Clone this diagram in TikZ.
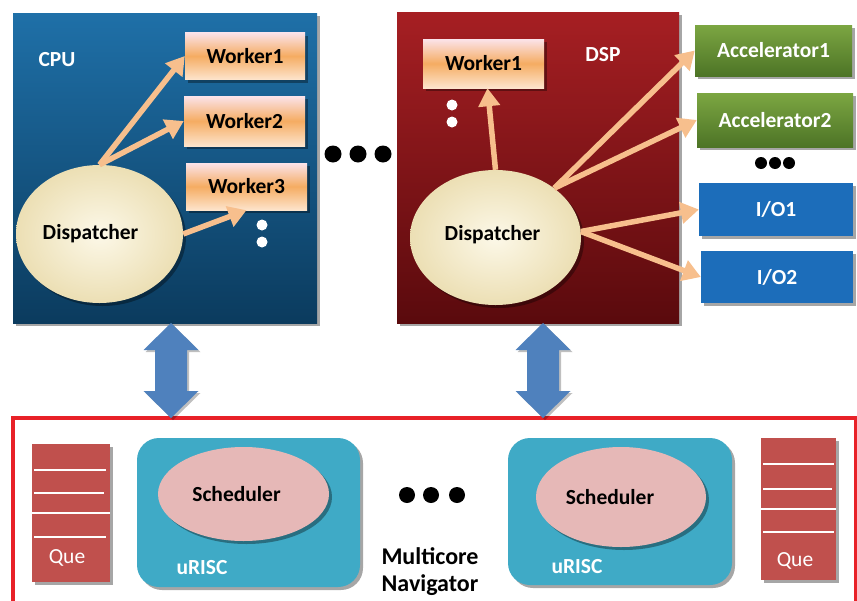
\documentclass[tikz,border=0pt]{standalone}
\usepackage{fontspec}
\setmainfont{Carlito}
\usetikzlibrary{shapes.geometric,arrows.meta,shadows}
\definecolor{cpuT}{HTML}{1F70A8}
\definecolor{cpuB}{HTML}{0B3B5E}
\definecolor{dspT}{HTML}{A61F23}
\definecolor{dspB}{HTML}{5A0A0D}
\definecolor{wkT}{HTML}{FBE3EA}
\definecolor{wkM}{HTML}{F5AC62}
\definecolor{wkB}{HTML}{FDE4CC}
\definecolor{accT}{HTML}{7CA642}
\definecolor{accB}{HTML}{4D7426}
\definecolor{ioC}{HTML}{1C6DBA}
\definecolor{arrO}{HTML}{F7BF8D}
\definecolor{arrB}{HTML}{4F81BD}
\definecolor{queC}{HTML}{C0504D}
\definecolor{riscC}{HTML}{3FAAC6}
\definecolor{schC}{HTML}{E6B8B7}
\definecolor{navR}{HTML}{E82128}
\definecolor{dispI}{HTML}{FCF8E8}
\definecolor{dispO}{HTML}{ECDFB4}
\tikzset{
  txt/.style={font=\fontsize{21.5}{24}\selectfont\bfseries},
  shd/.style={drop shadow={shadow xshift=3pt,shadow yshift=-3pt,opacity=0.35,fill=black}},
  procbox/.style={rectangle,inner sep=0pt,draw=none,shd},
  cpubox/.style={procbox,top color=cpuT,bottom color=cpuB},
  dspbox/.style={procbox,top color=dspT,bottom color=dspB},
  worker/.style={rectangle,inner sep=0pt,txt,text=black,top color=wkT,bottom color=wkB,middle color=wkM,shd},
  accbox/.style={rectangle,inner sep=0pt,txt,text=white,top color=accT,bottom color=accB,shd},
  iobox/.style={rectangle,inner sep=0pt,txt,text=white,fill=ioC,shd},
  disp/.style={ellipse,inner sep=0pt,txt,text=black,inner color=dispI,outer color=dispO,shd},
  oarrow/.style={draw=arrO,line width=5.5pt,-{Triangle[length=18pt,width=21pt]}},
  risc/.style={rectangle,rounded corners=22pt,inner sep=0pt,fill=riscC,shd},
  sched/.style={ellipse,inner sep=0pt,fill=schC,txt,text=black,shd},
  que/.style={rectangle,inner sep=0pt,fill=queC,shd},
  qline/.style={draw=white,line width=1.5pt},
  bigdot/.style={circle,fill=black,inner sep=0pt,minimum size=17pt},
  smalldot/.style={circle,fill=black,inner sep=0pt,minimum size=12pt},
  wdot/.style={circle,fill=white,inner sep=0pt,minimum size=11pt},
  lbl/.style={txt,text=white,inner sep=0pt},
  dblarrow/.pic={
    \fill[arrB,drop shadow={shadow xshift=2pt,shadow yshift=-2pt,opacity=0.25,fill=black}]
      (0,0) -- (27.5,27) -- (16,27) -- (16,68) -- (27.5,68) -- (0,95)
      -- (-27.5,68) -- (-16,68) -- (-16,27) -- (-27.5,27) -- cycle;
  }
}
\begin{document}
\begin{tikzpicture}[x=1pt,y=-1pt]
\useasboundingbox (0,0) rectangle (857,600);
\clip (0,0) rectangle (857,600);
\fill[white] (0,0) rectangle (857,600);

% CPU
\node[cpubox,minimum width=304pt,minimum height=310pt] (cpu) at (165,168) {};
\node[lbl] (cpul) at (57,60) {CPU};
\node[worker,minimum width=120pt,minimum height=47pt] (cw1) at (245,56) {Worker1};
\node[worker,minimum width=121pt,minimum height=50pt] (cw2) at (244.5,121) {Worker2};
\node[worker,minimum width=121pt,minimum height=47pt] (cw3) at (246.5,186.5) {Worker3};
\node[wdot] (cd1) at (262,225) {};
\node[wdot] (cd2) at (262,242) {};
\node[disp,minimum width=167pt,minimum height=138pt] (cdisp) at (99.5,234) {\hspace*{-18pt}Dispatcher};
\draw[oarrow] (cdisp.north) -- (cw1.west);
\draw[oarrow] (cdisp.north) -- (cw2.west);
\draw[oarrow] (cdisp.east) -- (cw3.south);

% middle dots
\node[bigdot] (m1) at (333,154) {};
\node[bigdot] (m2) at (358,154) {};
\node[bigdot] (m3) at (383,154) {};

% DSP
\node[dspbox,minimum width=282pt,minimum height=311pt] (dsp) at (538,167.5) {};
\node[lbl] (dspl) at (603,55) {DSP};
\node[worker,minimum width=121pt,minimum height=49pt] (dw1) at (483.5,63.5) {Worker1};
\node[wdot] (dd1) at (452,105) {};
\node[wdot] (dd2) at (452,122) {};
\node[disp,minimum width=171pt,minimum height=135pt] (ddisp) at (495.5,237.5) {\hspace*{-6pt}\raisebox{9pt}{Dispatcher}};

\node[accbox,minimum width=157pt,minimum height=51pt] (acc1) at (773.5,50.5) {Accelerator1};
\node[accbox,minimum width=156pt,minimum height=54pt] (acc2) at (775,120) {Accelerator2};
\node[smalldot] (a1) at (761,163) {};
\node[smalldot] (a2) at (775,163) {};
\node[smalldot] (a3) at (789,163) {};
\node[iobox,minimum width=154pt,minimum height=53pt] (io1) at (776,209.5) {I/O1};
\node[iobox,minimum width=152pt,minimum height=52pt] (io2) at (777,277) {I/O2};

\draw[oarrow] (ddisp.north) -- ([xshift=4pt]dw1.south);
\draw[oarrow] (ddisp.40) -- (acc1.west);
\draw[oarrow] (ddisp.40) -- (acc2.west);
\draw[oarrow] (ddisp.4) -- (io1.west);
\draw[oarrow] (ddisp.4) -- (io2.west);

% Navigator
\draw[navR,line width=3.2pt] (13,418) rectangle (856,612);
\coordinate (nav) at (13,418);

\pic at (171,323) {dblarrow};
\pic at (543,323) {dblarrow};

% left que
\node[que,minimum width=78pt,minimum height=138pt] (q1) at (71,513) {};
\draw[qline] (34,470) -- (106,470);
\draw[qline] (34,493) -- (104,493);
\draw[qline] (32,513) -- (110,513);
\draw[qline] (34,537) -- (106,537);
\node[txt,font=\fontsize{21.5}{24}\selectfont,text=white] (q1l) at (67,558) {Que};

% right que
\node[que,minimum width=75pt,minimum height=142pt] (q2) at (798.5,509) {};
\draw[qline] (763,464) -- (834,464);
\draw[qline] (763,489) -- (832,489);
\draw[qline] (761,509) -- (836,509);
\draw[qline] (763,532) -- (834,532);
\node[txt,font=\fontsize{21.5}{24}\selectfont,text=white] (q2l) at (795,561) {Que};

% uRISC
\node[risc,minimum width=223pt,minimum height=149pt] (r1) at (248.5,512.5) {};
\node[sched,minimum width=171pt,minimum height=94pt] (s1) at (243.5,494) {\hspace*{-14pt}Scheduler};
\node[lbl] (r1l) at (202,568) {uRISC};

\node[risc,minimum width=224pt,minimum height=147pt] (r2) at (620,511.5) {};
\node[sched,minimum width=170pt,minimum height=100pt] (s2) at (621,497) {\hspace*{-22pt}Scheduler};
\node[lbl] (r2l) at (577,567) {uRISC};

% bottom dots
\node[bigdot,minimum size=16pt] (b1) at (407,495) {};
\node[bigdot,minimum size=16pt] (b2) at (431,495) {};
\node[bigdot,minimum size=16pt] (b3) at (457,495) {};

\node[font=\fontsize{24}{27}\selectfont\bfseries,align=center,inner sep=0pt] (mn) at (430,572) {Multicore\\Navigator};
\end{tikzpicture}
\end{document}
